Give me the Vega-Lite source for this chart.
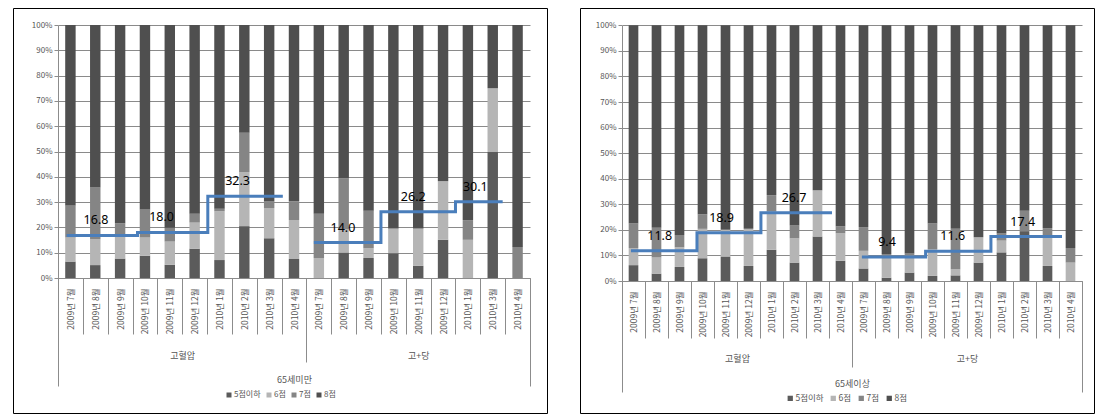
{
  "$schema": "https://vega.github.io/schema/vega-lite/v6.json",
  "background": "white",
  "padding": {"left": 8, "top": 7, "right": 0, "bottom": 0},
  "spacing": 27,
  "config": {
    "view": {"stroke": "#000000", "strokeWidth": 1},
    "font": "Noto Sans CJK KR",
    "axis": {"labelFont": "Noto Sans CJK KR", "titleFont": "Noto Sans CJK KR", "labelColor": "#555555", "titleColor": "#555555", "tickColor": "#8c8c8c", "domainColor": "#8c8c8c", "titleFontWeight": "normal"},
    "legend": {"labelFont": "Noto Sans CJK KR", "labelColor": "#555555"}
  },
  "resolve": {"scale": {"color": "independent"}, "legend": {"color": "independent"}},
  "datasets": {
    "L": [
      {"k": "01|2009년 7월", "5점이하": 6.5, "6점": 9.5, "7점": 12.7, "8점": 71.3},
      {"k": "02|2009년 8월", "5점이하": 5.1, "6점": 10.2, "7점": 20.6, "8점": 64.1},
      {"k": "03|2009년 9월", "5점이하": 7.7, "6점": 8.8, "7점": 5.0, "8점": 78.5},
      {"k": "04|2009년 10월", "5점이하": 8.8, "6점": 7.2, "7점": 11.1, "8점": 72.9},
      {"k": "05|2009년 11월", "5점이하": 5.2, "6점": 9.2, "7점": 5.5, "8점": 80.1},
      {"k": "06|2009년 12월", "5점이하": 11.6, "6점": 10.3, "7점": 3.5, "8점": 74.6},
      {"k": "07|2010년 1월", "5점이하": 7.1, "6점": 19.3, "7점": 1.0, "8점": 72.6},
      {"k": "08|2010년 2월", "5점이하": 20.5, "6점": 21.3, "7점": 15.6, "8점": 42.6},
      {"k": "09|2010년 3월", "5점이하": 15.7, "6점": 12.0, "7점": 2.5, "8점": 69.8},
      {"k": "10|2010년 4월", "5점이하": 7.5, "6점": 15.4, "7점": 7.5, "8점": 69.6},
      {"k": "11|2009년 7월", "5점이하": 0, "6점": 7.9, "7점": 17.5, "8점": 74.6},
      {"k": "12|2009년 8월", "5점이하": 10.1, "6점": 9.1, "7점": 20.1, "8점": 60.7},
      {"k": "13|2009년 9월", "5점이하": 7.9, "6점": 3.9, "7점": 14.8, "8점": 73.4},
      {"k": "14|2009년 10월", "5점이하": 9.8, "6점": 9.8, "7점": 0, "8점": 80.4},
      {"k": "15|2009년 11월", "5점이하": 4.8, "6점": 14.8, "7점": 0, "8점": 80.4},
      {"k": "16|2009년 12월", "5점이하": 15.1, "6점": 23.1, "7점": 0, "8점": 61.8},
      {"k": "17|2010년 1월", "5점이하": 0, "6점": 15.1, "7점": 7.8, "8점": 77.1},
      {"k": "18|2010년 3월", "5점이하": 49.8, "6점": 25.2, "7점": 0, "8점": 25.0},
      {"k": "19|2010년 4월", "5점이하": 0, "6점": 0, "7점": 12.3, "8점": 87.7}
    ],
    "R": [
      {"k": "01|2009년 7월", "5점이하": 6.2, "6점": 6.7, "7점": 9.7, "8점": 77.4},
      {"k": "02|2009년 8월", "5점이하": 2.9, "6점": 6.3, "7점": 11.6, "8점": 79.2},
      {"k": "03|2009년 9월", "5점이하": 5.5, "6점": 7.7, "7점": 4.8, "8점": 82.0},
      {"k": "04|2009년 10월", "5점이하": 8.9, "6점": 11.5, "7점": 5.7, "8점": 73.9},
      {"k": "05|2009년 11월", "5점이하": 9.6, "6점": 10.4, "7점": 0, "8점": 80.0},
      {"k": "06|2009년 12월", "5점이하": 5.9, "6점": 14.5, "7점": 0, "8점": 79.6},
      {"k": "07|2010년 1월", "5점이하": 12.2, "6점": 15.0, "7점": 6.4, "8점": 66.4},
      {"k": "08|2010년 2월", "5점이하": 7.2, "6점": 9.5, "7점": 5.0, "8점": 78.3},
      {"k": "09|2010년 3월", "5점이하": 17.4, "6점": 18.1, "7점": 0, "8점": 64.5},
      {"k": "10|2010년 4월", "5점이하": 7.9, "6점": 10.8, "7점": 2.7, "8점": 78.6},
      {"k": "11|2009년 7월", "5점이하": 4.9, "6점": 6.9, "7점": 9.3, "8점": 78.9},
      {"k": "12|2009년 8월", "5점이하": 1.3, "6점": 7.8, "7점": 1.5, "8점": 89.4},
      {"k": "13|2009년 9월", "5점이하": 3.3, "6점": 6.6, "7점": 1.0, "8점": 89.1},
      {"k": "14|2009년 10월", "5점이하": 2.0, "6점": 10.5, "7점": 10.1, "8점": 77.4},
      {"k": "15|2009년 11월", "5점이하": 2.2, "6점": 2.4, "7점": 15.8, "8점": 79.6},
      {"k": "16|2009년 12월", "5점이하": 7.2, "6점": 9.9, "7점": 0, "8점": 82.9},
      {"k": "17|2010년 1월", "5점이하": 11.2, "6점": 4.6, "7점": 2.9, "8점": 81.3},
      {"k": "18|2010년 2월", "5점이하": 19.5, "6점": 0, "7점": 8.0, "8점": 72.5},
      {"k": "19|2010년 3월", "5점이하": 5.9, "6점": 11.9, "7점": 2.9, "8점": 79.3},
      {"k": "20|2010년 4월", "5점이하": 0, "6점": 7.2, "7점": 5.7, "8점": 87.1}
    ],
    "LL": [
      {"g": 1, "x": 0.35, "v": 16.8}, {"g": 1, "x": 3.2, "v": 18.0}, {"g": 1, "x": 6.03, "v": 32.3}, {"g": 1, "x": 9.05, "v": 32.3},
      {"g": 2, "x": 10.3, "v": 14.0}, {"g": 2, "x": 13.0, "v": 26.2}, {"g": 2, "x": 16.0, "v": 30.1}, {"g": 2, "x": 17.9, "v": 30.1}
    ],
    "LT": [
      {"x": 1.53, "v": 16.8}, {"x": 4.17, "v": 18.0}, {"x": 7.23, "v": 32.3},
      {"x": 11.47, "v": 14.0}, {"x": 14.3, "v": 26.2}, {"x": 16.8, "v": 30.1}
    ],
    "RL": [
      {"g": 1, "x": 0.39, "v": 11.8}, {"g": 1, "x": 3.26, "v": 18.9}, {"g": 1, "x": 6.04, "v": 26.7}, {"g": 1, "x": 9.13, "v": 26.7},
      {"g": 2, "x": 10.43, "v": 9.4}, {"g": 2, "x": 13.2, "v": 11.6}, {"g": 2, "x": 16.04, "v": 17.4}, {"g": 2, "x": 19.13, "v": 17.4}
    ],
    "RT": [
      {"x": 1.64, "v": 11.8}, {"x": 4.33, "v": 18.9}, {"x": 7.48, "v": 26.7},
      {"x": 11.52, "v": 9.4}, {"x": 14.38, "v": 11.6}, {"x": 17.42, "v": 17.4}
    ],
    "GL": [{"s": 0, "m": 5, "n": "고혈압"}, {"s": 10, "m": 14.5, "n": "고+당"}],
    "GR": [{"s": 0, "m": 5, "n": "고혈압"}, {"s": 10, "m": 15, "n": "고+당"}]
  },
  "hconcat": [
    {
      "width": 534,
      "height": 405,
      "resolve": {"scale": {"x": "independent"}, "axis": {"x": "independent"}},
      "layer": [
        {
          "data": {"name": "L"},
          "transform": [{"fold": ["5점이하", "6점", "7점", "8점"], "as": ["s", "v"]}],
          "mark": {"type": "bar", "width": {"band": 0.42}},
          "encoding": {
            "x": {"field": "k", "type": "nominal", "scale": {"range": [45, 517], "paddingInner": 0, "paddingOuter": 0},
              "axis": {"orient": "bottom", "offset": -135, "title": null, "labelExpr": "split(datum.label, '|')[1]", "labelAngle": 270, "labelAlign": "right", "labelBaseline": "middle", "labelPadding": -46, "tickSize": 56, "tickBand": "extent", "labelFontSize": 8.5, "labelOverlap": false, "labelLimit": 0}},
            "y": {"field": "v", "type": "quantitative", "stack": "zero", "scale": {"domain": [0, 100], "range": [270, 17], "nice": false},
              "axis": {"orient": "left", "offset": -45, "title": null, "values": [0, 10, 20, 30, 40, 50, 60, 70, 80, 90, 100], "labelExpr": "datum.value + '%'", "grid": true, "gridColor": "#8a8a8a", "tickSize": 4, "labelPadding": 2, "labelFontSize": 8}},
            "color": {"field": "s", "type": "nominal", "scale": {"domain": ["5점이하", "6점", "7점", "8점"], "range": ["#5b5b5b", "#b5b5b5", "#858585", "#4f4f4f"]},
              "legend": {"title": null, "orient": "none", "direction": "horizontal", "legendX": 212, "legendY": 383, "symbolType": "square", "symbolSize": 25, "symbolStrokeWidth": 0, "labelFontSize": 8, "columnPadding": 4, "labelOffset": 1}},
            "order": {"field": "s", "type": "ordinal", "sort": "ascending"}
          }
        },
        {
          "layer": [
            {
              "data": {"name": "LL"},
              "mark": {"type": "line", "interpolate": "step-after", "color": "#4a7ebb", "strokeWidth": 3},
              "encoding": {
                "x": {"field": "x", "type": "quantitative", "scale": {"domain": [0, 19], "range": [45, 517], "nice": false, "zero": false},
                  "axis": {"orient": "bottom", "offset": -135, "values": [0, 19], "tickSize": 108, "labels": false, "domain": false, "title": "65세미만", "titleY": 101, "titleBaseline": "middle", "titleFontSize": 9}},
                "y": {"field": "v", "type": "quantitative"},
                "detail": {"field": "g", "type": "nominal"}
              }
            },
            {
              "data": {"name": "LT"},
              "mark": {"type": "text", "fontSize": 12.5, "color": "#000000", "baseline": "middle", "dy": -15, "font": "Noto Sans"},
              "encoding": {
                "x": {"field": "x", "type": "quantitative"},
                "y": {"field": "v", "type": "quantitative"},
                "text": {"field": "v", "type": "quantitative", "format": ".1f"}
              }
            }
          ]
        },
        {
          "data": {"name": "GL"},
          "mark": {"type": "point", "opacity": 0},
          "encoding": {
            "x": {"field": "s", "type": "quantitative", "scale": {"domain": [0, 19], "range": [45, 517], "nice": false, "zero": false},
              "axis": {"orient": "bottom", "offset": -135, "values": [10], "tickSize": 84, "labels": false, "domain": false, "title": null}}
          }
        },
        {
          "data": {"name": "GL"},
          "mark": {"type": "point", "opacity": 0},
          "encoding": {
            "x": {"field": "m", "type": "quantitative", "scale": {"domain": [0, 19], "range": [45, 517], "nice": false, "zero": false},
              "axis": {"orient": "bottom", "offset": -135, "values": [5, 14.5], "ticks": false, "tickSize": 0, "labelExpr": "datum.value < 10 ? '고혈압' : '고+당'", "labelPadding": 77, "labelBaseline": "middle", "labelFontSize": 9, "domain": false, "title": null}}
          }
        }
      ]
    },
    {
      "width": 514,
      "height": 405,
      "resolve": {"scale": {"x": "independent"}, "axis": {"x": "independent"}},
      "layer": [
        {
          "data": {"name": "R"},
          "transform": [{"fold": ["5점이하", "6점", "7점", "8점"], "as": ["s", "v"]}],
          "mark": {"type": "bar", "width": {"band": 0.42}},
          "encoding": {
            "x": {"field": "k", "type": "nominal", "scale": {"range": [42, 502], "paddingInner": 0, "paddingOuter": 0},
              "axis": {"orient": "bottom", "offset": -132, "title": null, "labelExpr": "split(datum.label, '|')[1]", "labelAngle": 270, "labelAlign": "right", "labelBaseline": "middle", "labelPadding": -47, "tickSize": 57, "tickBand": "extent", "labelFontSize": 8.5, "labelOverlap": false, "labelLimit": 0}},
            "y": {"field": "v", "type": "quantitative", "stack": "zero", "scale": {"domain": [0, 100], "range": [273, 17.3], "nice": false},
              "axis": {"orient": "left", "offset": -42, "title": null, "values": [0, 10, 20, 30, 40, 50, 60, 70, 80, 90, 100], "labelExpr": "datum.value + '%'", "grid": true, "gridColor": "#8a8a8a", "tickSize": 4, "labelPadding": 2, "labelFontSize": 8}},
            "color": {"field": "s", "type": "nominal", "scale": {"domain": ["5점이하", "6점", "7점", "8점"], "range": ["#5b5b5b", "#b5b5b5", "#858585", "#4f4f4f"]},
              "legend": {"title": null, "orient": "none", "direction": "horizontal", "legendX": 206, "legendY": 386, "symbolType": "square", "symbolSize": 28, "symbolStrokeWidth": 0, "labelFontSize": 8.5, "columnPadding": 5, "labelOffset": 1}},
            "order": {"field": "s", "type": "ordinal", "sort": "ascending"}
          }
        },
        {
          "layer": [
            {
              "data": {"name": "RL"},
              "mark": {"type": "line", "interpolate": "step-after", "color": "#4a7ebb", "strokeWidth": 3},
              "encoding": {
                "x": {"field": "x", "type": "quantitative", "scale": {"domain": [0, 20], "range": [42, 502], "nice": false, "zero": false},
                  "axis": {"orient": "bottom", "offset": -132, "values": [0, 20], "tickSize": 111, "labels": false, "domain": false, "title": "65세이상", "titleY": 102, "titleBaseline": "middle", "titleFontSize": 9}},
                "y": {"field": "v", "type": "quantitative"},
                "detail": {"field": "g", "type": "nominal"}
              }
            },
            {
              "data": {"name": "RT"},
              "mark": {"type": "text", "fontSize": 12.5, "color": "#000000", "baseline": "middle", "dy": -15, "font": "Noto Sans"},
              "encoding": {
                "x": {"field": "x", "type": "quantitative"},
                "y": {"field": "v", "type": "quantitative"},
                "text": {"field": "v", "type": "quantitative", "format": ".1f"}
              }
            }
          ]
        },
        {
          "data": {"name": "GR"},
          "mark": {"type": "point", "opacity": 0},
          "encoding": {
            "x": {"field": "s", "type": "quantitative", "scale": {"domain": [0, 20], "range": [42, 502], "nice": false, "zero": false},
              "axis": {"orient": "bottom", "offset": -132, "values": [10], "tickSize": 86, "labels": false, "domain": false, "title": null}}
          }
        },
        {
          "data": {"name": "GR"},
          "mark": {"type": "point", "opacity": 0},
          "encoding": {
            "x": {"field": "m", "type": "quantitative", "scale": {"domain": [0, 20], "range": [42, 502], "nice": false, "zero": false},
              "axis": {"orient": "bottom", "offset": -132, "values": [5, 15], "ticks": false, "tickSize": 0, "labelExpr": "datum.value < 10 ? '고혈압' : '고+당'", "labelPadding": 77, "labelBaseline": "middle", "labelFontSize": 9, "domain": false, "title": null}}
          }
        }
      ]
    }
  ]
}
